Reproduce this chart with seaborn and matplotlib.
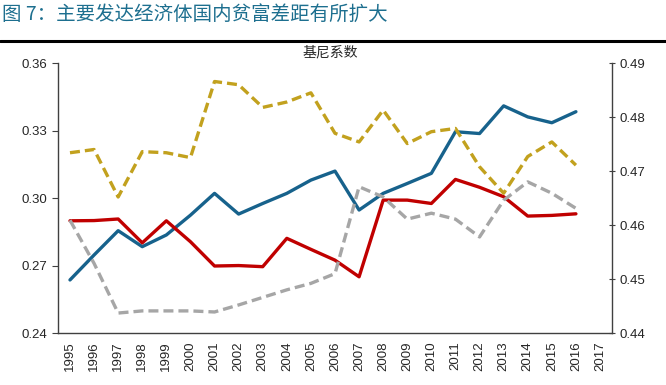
import numpy as np
import pandas as pd
import matplotlib
matplotlib.use('Agg')
import matplotlib.pyplot as plt
import seaborn as sns

# data
years = list(range(1995, 2017))
year_labels = [str(y) for y in range(1995, 2018)]

# left axis (solid lines)
blue = [0.2636, 0.2747, 0.2855, 0.2784, 0.2836, 0.2924, 0.3021, 0.2929, 0.2976, 0.3021, 0.3080,
        0.3120, 0.2947, 0.3021, 0.3065, 0.3110, 0.3295, 0.3287, 0.3410, 0.3361, 0.3335, 0.3384]
red = [0.2899, 0.2900, 0.2907, 0.2801, 0.2899, 0.2806, 0.2698, 0.2700, 0.2695, 0.2821, 0.2772,
       0.2724, 0.2650, 0.2991, 0.2991, 0.2976, 0.3083, 0.3048, 0.3006, 0.2920, 0.2923, 0.2930]

# right axis (dashed lines)
gold = [0.4734, 0.4740, 0.4652, 0.4736, 0.4734, 0.4725, 0.4866, 0.4860, 0.4818, 0.4828, 0.4845,
        0.4770, 0.4754, 0.4813, 0.4751, 0.4773, 0.4779, 0.4708, 0.4659, 0.4727, 0.4754, 0.4711]
grey = [0.4609, 0.4529, 0.4437, 0.4441, 0.4441, 0.4441, 0.4439, 0.4452, 0.4466, 0.4480, 0.4492,
        0.4510, 0.4671, 0.4652, 0.4611, 0.4622, 0.4611, 0.4578, 0.4646, 0.4680, 0.4659, 0.4631]

sns.set_style('white')
plt.rcParams['font.family'] = ['Liberation Sans', 'Noto Sans CJK SC']

df = pd.DataFrame({'pos': np.arange(len(years)), 'blue': blue, 'red': red, 'gold': gold, 'grey': grey})

fig = plt.figure(figsize=(6.66, 3.85), dpi=100)
ax = fig.add_axes([0.087, 0.135, 0.832, 0.701])
ax2 = ax.twinx()

lw = 2.4
sns.lineplot(data=df, x='pos', y='blue', ax=ax, color='#17628c', lw=lw)
sns.lineplot(data=df, x='pos', y='red', ax=ax, color='#c00000', lw=lw)
sns.lineplot(data=df, x='pos', y='gold', ax=ax2, color='#c2a11e', lw=lw, linestyle=(0, (3, 1.5)))
sns.lineplot(data=df, x='pos', y='grey', ax=ax2, color='#a6a6a6', lw=lw, linestyle=(0, (3, 1.5)))

ax.set_ylim(0.24, 0.36)
ax.set_yticks([0.24, 0.27, 0.30, 0.33, 0.36])
ax.set_yticklabels(['0.24', '0.27', '0.30', '0.33', '0.36'])
ax2.set_ylim(0.44, 0.49)
ax2.set_yticks([0.44, 0.45, 0.46, 0.47, 0.48, 0.49])
ax2.set_yticklabels(['0.44', '0.45', '0.46', '0.47', '0.48', '0.49'])

ax.set_xlim(-0.5, len(year_labels) - 0.5)
ax.set_xticks(np.arange(len(year_labels)))
ax.set_xticklabels(year_labels, rotation=90, fontsize=9.5)
ax.set_xticks(np.arange(len(year_labels) + 1) - 0.5, minor=True)
ax.tick_params(axis='x', which='major', length=0, pad=6)
ax.tick_params(axis='x', which='minor', length=4, color='#404040', direction='out')
ax.tick_params(axis='y', length=4, direction='out', labelsize=9.5, color='#404040')
ax2.tick_params(axis='y', length=4, direction='inout', labelsize=9.5, color='#404040')

for a in (ax, ax2):
    a.set_xlabel('')
    a.set_ylabel('')
    a.spines['top'].set_visible(False)
    for s in ('left', 'right', 'bottom'):
        a.spines[s].set_color('#404040')
        a.spines[s].set_linewidth(1.0)
ax.spines['right'].set_visible(False)
ax2.spines['left'].set_visible(False)
ax2.spines['bottom'].set_visible(False)

fig.text(0.003, 0.963, '图 7：主要发达经济体国内贫富差距有所扩大', fontsize=14,
         color='#1d6f8f', va='center', ha='left', family=['Noto Sans CJK SC', 'DejaVu Sans'])
fig.add_artist(plt.Line2D([0, 1], [0.893, 0.893], color='black', lw=2.2))
fig.text(0.496, 0.865, '基尼系数', fontsize=10, ha='center', va='center',
         family=['Noto Sans CJK SC', 'DejaVu Sans'])

fig.savefig('out.png', dpi=100)
